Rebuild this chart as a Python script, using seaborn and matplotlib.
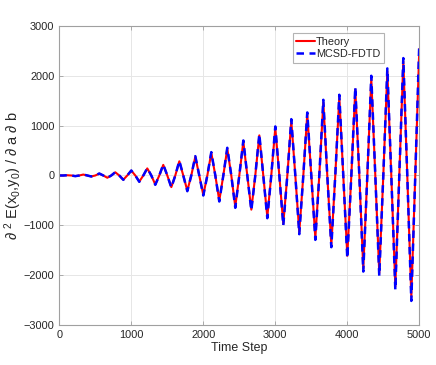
import matplotlib
matplotlib.use("Agg")
import matplotlib.pyplot as plt
import seaborn as sns
import pandas as pd
from matplotlib.lines import Line2D

# ---- data ----
# extremum (peak / trough) time steps
extreme_steps = [0, 111, 222, 333, 444, 556, 667, 778, 889, 1000, 1111, 1222, 1333, 1444,
                 1556, 1667, 1778, 1889, 2000, 2111, 2222, 2333, 2444, 2556, 2667, 2778,
                 2889, 3000, 3111, 3222, 3333, 3444, 3556, 3667, 3778, 3889, 4000, 4111,
                 4222, 4333, 4444, 4556, 4667, 4778, 4889, 5000]
# zero-crossing time steps (between extrema)
zero_steps = [56, 167, 278, 389, 500, 611, 722, 833, 944, 1056, 1167, 1278, 1389, 1500,
              1611, 1722, 1833, 1944, 2056, 2167, 2278, 2389, 2500, 2611, 2722, 2833,
              2944, 3056, 3167, 3278, 3389, 3500, 3611, 3722, 3833, 3944, 4056, 4167,
              4278, 4389, 4500, 4611, 4722, 4833, 4944]

theory_extremes = [0, 5, -12, 19, -19, 38, -45, 64, -84, 97, -122, 142, -180, 213, -233,
                   285, -305, 375, -390, 455, -505, 540, -625, 680, -685, 805, -830, 955,
                   -975, 1100, -1140, 1230, -1255, 1470, -1400, 1575, -1610, 1725, -1870,
                   1945, -1960, 2090, -2230, 2290, -2440, 2540]
mcsd_extremes = [0, 5, -13, 20, -20, 40, -47, 67, -87, 100, -127, 147, -187, 221, -241,
                 295, -315, 388, -402, 469, -522, 556, -649, 703, -703, 830, -857, 984,
                 -1004, 1131, -1178, 1265, -1292, 1519, -1439, 1620, -1660, 1774, -1928,
                 2001, -2015, 2149, -2296, 2356, -2517, 2657]

x_ticks = [0, 1000, 2000, 3000, 4000, 5000]
y_ticks = [-3000, -2000, -1000, 0, 1000, 2000, 3000]

# ---- build tables ----
def series(vals):
    df = pd.DataFrame({"step": extreme_steps + zero_steps,
                       "value": list(vals) + [0] * len(zero_steps)})
    return df.sort_values("step")

df_theory = series(theory_extremes)
df_mcsd = series(mcsd_extremes)

sns.set_style("white")
plt.rcParams["font.family"] = ["Liberation Sans", "DejaVu Sans"]
plt.rcParams["mathtext.fontset"] = "custom"
plt.rcParams["mathtext.rm"] = "Liberation Sans"
plt.rcParams["mathtext.it"] = "Liberation Sans:italic"

fig = plt.figure(figsize=(4.36, 3.65), dpi=100)
ax = fig.add_axes([0.136, 0.1096, 0.8257, 0.8192])

sns.lineplot(data=df_theory, x="step", y="value", ax=ax, color="#ff0000",
             linewidth=1.5, sort=False, estimator=None)
sns.lineplot(data=df_mcsd, x="step", y="value", ax=ax, color="#0000ff",
             linewidth=1.8, linestyle=(0, (3, 2.2)), sort=False, estimator=None)

ax.set_xlim(0, 5000)
ax.set_ylim(-3000, 3000)
ax.set_xticks(x_ticks)
ax.set_yticks(y_ticks)
ax.grid(True, color="#e6e6e6", linewidth=0.7)
ax.set_axisbelow(True)
for s in ax.spines.values():
    s.set_color("#a0a0a0")
    s.set_linewidth(0.8)
ax.tick_params(direction="in", length=3, width=0.6, colors="#a0a0a0",
               labelcolor="#262626", labelsize=7.9, top=True, right=True,
               bottom=True, left=True, pad=3.5)

ax.set_xlabel("Time Step", fontsize=8.9, color="#262626", labelpad=1.5)
ax.set_ylabel(r"$\partial$ $^{2}$ E(x$_{0}$,y$_{0}$) / $\partial$ a $\partial$ b",
              fontsize=10.5, color="#262626", labelpad=0)

handles = [Line2D([], [], color="#ff0000", linewidth=1.5),
           Line2D([], [], color="#0000ff", linewidth=1.8, linestyle=(0, (3, 2.2)))]
leg = ax.legend(handles, ["Theory", "MCSD-FDTD"], loc="upper right",
                bbox_to_anchor=(0.902, 0.9755), fontsize=7.8, frameon=True,
                fancybox=False, handlelength=1.75, handletextpad=0.05,
                borderpad=0.35, labelspacing=0.2, borderaxespad=0)
leg.get_frame().set_edgecolor("#a0a0a0")
leg.get_frame().set_linewidth(0.8)

fig.savefig("out.png", dpi=100, facecolor="white")
